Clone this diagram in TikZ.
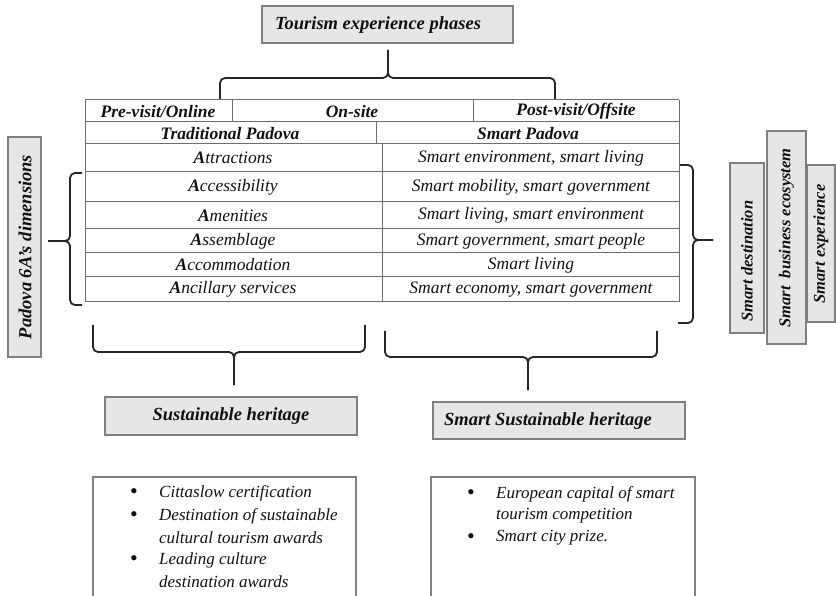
\documentclass[tikz,border=0pt]{standalone}
\usepackage{fontspec}
\setmainfont{Liberation Serif}
\definecolor{boxfill}{HTML}{E6E6E6}
\definecolor{boxgray}{HTML}{7F7F7F}
\definecolor{linegray}{HTML}{6E6E6E}
\definecolor{txt}{HTML}{111111}
\definecolor{bracecol}{HTML}{262626}
\begin{document}
\begin{tikzpicture}[x=1pt,y=-1pt,
  gbox/.style={draw=boxgray, fill=boxfill, line width=1.3pt, inner sep=0},
  wbox/.style={draw=boxgray, line width=1.1pt},
  tline/.style={draw=linegray, line width=1pt},
  brace/.style={draw=bracecol, line width=1.8pt, rounded corners=5pt},
  hdr/.style={font=\fontsize{17.5}{20}\selectfont\bfseries\itshape, text=txt, inner sep=0},
  cell/.style={font=\fontsize{17.5}{20}\selectfont\itshape, text=txt, inner sep=0},
  lbl/.style={font=\fontsize{18.5}{21}\selectfont\bfseries\itshape, text=txt, inner sep=0},
  vlbl/.style={font=\fontsize{16.5}{19}\selectfont\bfseries\itshape, text=txt, inner sep=0, rotate=90},
  bul/.style={font=\fontsize{17}{19}\selectfont\itshape, text=txt, inner sep=0, anchor=west},
  dot/.style={font=\fontsize{22}{24}\selectfont, text=txt, inner sep=0}]
\useasboundingbox (0,0) rectangle (836,596);

% top box
\node[gbox, minimum width=251pt, minimum height=37pt] (topbox) at (387.5,24.5) {};
\node[lbl] (toptxt) at (378,25) {Tourism experience phases};

% top brace
\coordinate (tbL) at (220,100);
\coordinate (tbR) at (555,100);
\coordinate (tbTip) at (388,50);
\draw[brace] (tbL) -- (220,78) -- (388,78) -- (tbTip);
\draw[brace] (tbR) -- (555,78) -- (388,78) -- (tbTip);

% table
\foreach \yy in {100,122,144,172,202,229,253,277,302}
  \draw[tline] (85,\yy) -- (679,\yy);
\draw[tline] (85,100) -- (85,302);
\draw[tline] (679,100) -- (679,302);
\draw[tline] (232,100) -- (232,122);
\draw[tline] (473,100) -- (473,122);
\draw[tline] (376,122) -- (376,144);
\draw[tline] (382,144) -- (382,302);

\node[hdr] (pre) at (158,111.5) {Pre-visit/Online};
\node[hdr] (on) at (352,111.5) {On-site};
\node[hdr] (post) at (576,111.5) {Post-visit/Offsite};
\node[hdr] (trad) at (230,133.5) {Traditional Padova};
\node[hdr] (smart) at (528,133.5) {Smart Padova};

\node[cell] (a1) at (233,158) {\textbf{A}ttractions};
\node[cell] (a2) at (233,187) {\textbf{A}ccessibility};
\node[cell] (a3) at (233,215.5) {\textbf{A}menities};
\node[cell] (a4) at (233,241) {\textbf{A}ssemblage};
\node[cell] (a5) at (233,265) {\textbf{A}ccommodation};
\node[cell] (a6) at (233,289.5) {\textbf{A}ncillary services};

\node[cell] (s1) at (531,158) {Smart environment, smart living};
\node[cell] (s2) at (531,187) {Smart mobility, smart government};
\node[cell] (s3) at (531,215.5) {Smart living, smart environment};
\node[cell] (s4) at (531,241) {Smart government, smart people};
\node[cell] (s5) at (531,265) {Smart living};
\node[cell] (s6) at (531,289.5) {Smart economy, smart government};

% left box and brace
\node[gbox, minimum width=33pt, minimum height=220pt] (leftbox) at (24.5,247) {};
\node[lbl, rotate=90] (lefttxt) at (25,247) {Padova 6A’s dimensions};
\draw[brace] (82,173) -- (70,173) -- (70,241) -- (48,241);
\draw[brace] (82,305) -- (70,305) -- (70,241) -- (48,241);

% right brace and boxes
\draw[brace] (680,165) -- (693,165) -- (693,240) -- (713,240);
\draw[brace] (678,323) -- (693,323) -- (693,240) -- (713,240);
\node[gbox, minimum width=34pt, minimum height=170pt] (sdbox) at (747,248) {};
\node[vlbl] (sdtxt) at (747,261) {Smart destination};
\node[gbox, minimum width=39pt, minimum height=213pt] (sbbox) at (786.5,237.5) {};
\node[vlbl] (sbtxt) at (786.5,238) {Smart\ \ business ecosystem};
\node[gbox, minimum width=28pt, minimum height=157pt] (sebox) at (821,243.5) {};
\node[vlbl] (setxt) at (821,244) {Smart experience};

% bottom braces
\draw[brace] (93,325) -- (93,352) -- (234,352) -- (234,385);
\draw[brace] (365,325) -- (365,352) -- (234,352) -- (234,385);
\draw[brace] (385,331) -- (385,357) -- (528,357) -- (528,390);
\draw[brace] (657,331) -- (657,357) -- (528,357) -- (528,390);

% heritage boxes
\node[gbox, minimum width=252pt, minimum height=38pt] (shbox) at (231,416) {};
\node[lbl] (shtxt) at (231,416) {Sustainable heritage};
\node[gbox, minimum width=252pt, minimum height=37pt] (sshbox) at (559,420.5) {};
\node[lbl] (sshtxt) at (548,421) {Smart Sustainable heritage};

% bullet boxes (cut at the bottom edge)
\draw[wbox] (93,600) -- (93,477) -- (356,477) -- (356,600);
\draw[wbox] (431,600) -- (431,477) -- (695,477) -- (695,600);

\node[dot] (b1) at (134,494) {\textbullet};
\node[bul] (l1) at (159,493) {Cittaslow certification};
\node[dot] (b2) at (134,517) {\textbullet};
\node[bul] (l2) at (159,516) {Destination of sustainable};
\node[bul] (l3) at (159,538) {cultural tourism awards};
\node[dot] (b3) at (134,561) {\textbullet};
\node[bul] (l4) at (159,560) {Leading culture};
\node[bul] (l5) at (159,582) {destination awards};

\node[dot] (r1) at (471,495) {\textbullet};
\node[bul] (m1) at (496,494) {European capital of smart};
\node[bul] (m2) at (496,515.5) {tourism competition};
\node[dot] (r2) at (471,539) {\textbullet};
\node[bul] (m3) at (496,538) {Smart city prize.};
\end{tikzpicture}
\end{document}
